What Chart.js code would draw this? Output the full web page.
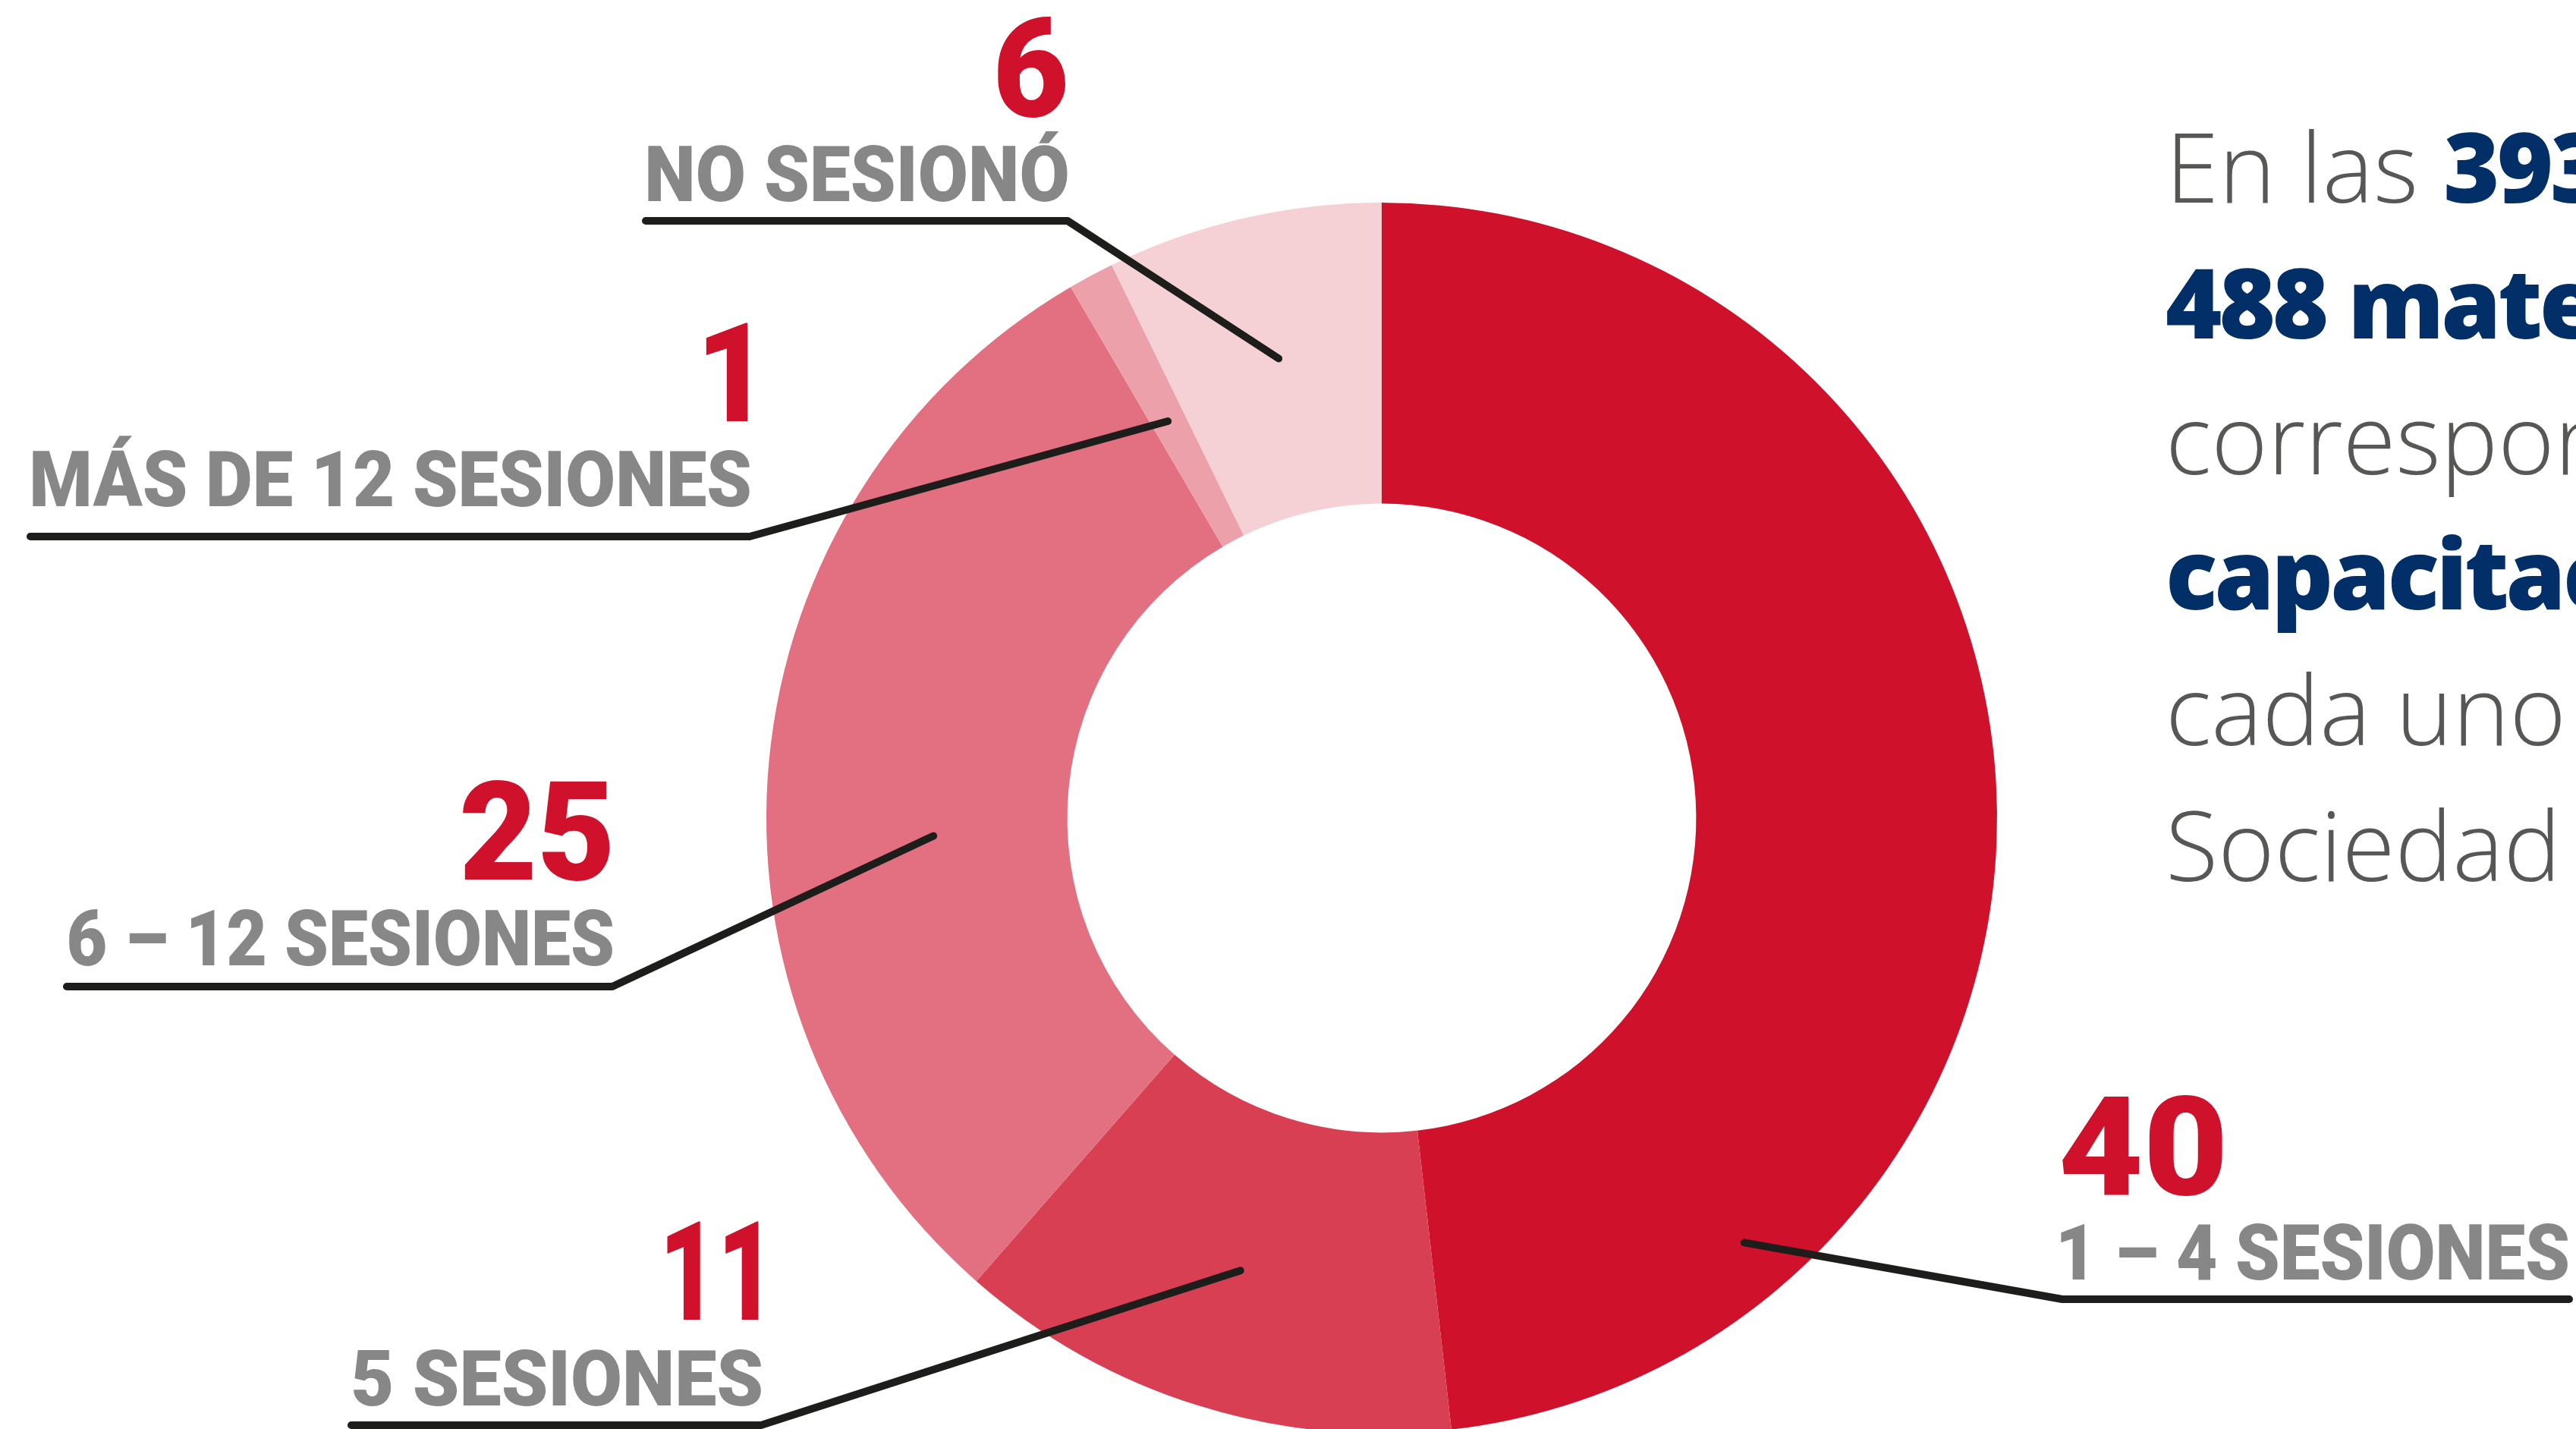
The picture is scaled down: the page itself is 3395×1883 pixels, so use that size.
<!DOCTYPE html>
<html>
<head>
<meta charset="utf-8">
<title>Sesiones</title>
<script src="https://cdn.jsdelivr.net/npm/chart.js"></script>
<style>
  html, body { margin: 0; padding: 0; background: #fff; overflow: hidden; }
  #wrap { position: absolute; left: 0; top: 0; width: 3395px; height: 1900px; }
</style>
</head>
<body>
<div id="wrap"><canvas id="sesiones"></canvas></div>
<script>
const categories = ['1 – 4 SESIONES', '5 SESIONES', '6 – 12 SESIONES', 'MÁS DE 12 SESIONES', 'NO SESIONÓ'];
const sessionCounts = [40, 11, 25, 1, 6];
const sliceColors = ['#D0112B', '#D93F53', '#E27080', '#ECA0AA', '#F5D1D6'];
const introLines = [
  [['En las ', false], ['393 sesiones', true]],
  [['488 materias', true]],
  [['correspondientes', false]],
  [['capacitación', true]],
  [['cada uno de', false]],
  [['Sociedad Civil', false]]
];

// label placement, one per slice. t = where along the slice the leader starts, f = how deep in the ring
const callouts = [
  { side: 'left',  x0: 2716, x1: 3384, capBottom: 1686, num: [2718, 2929, 1574], lineY: 1712, t: 0.804, f: 0.81 },
  { side: 'right', x0: 466,  x1: 1003, capBottom: 1852, num: [879, 1000, 1739],  lineY: 1878, t: 0.50,  f: 0.53 },
  { side: 'right', x0: 91,   x1: 807,  capBottom: 1272, num: [610, 804, 1159],   lineY: 1300, t: 0.429, f: 0.446 },
  { side: 'right', x0: 43,   x1: 988,  capBottom: 667,  num: [930, 986, 555],    lineY: 707,  t: 0.47,  f: 0.453 },
  { side: 'right', x0: 854,  x1: 1407, capBottom: 265,  num: [1315, 1405, 153],  lineY: 291,  t: 0.514, f: 0.52 }
];

function drawFit(ctx, text, x0, x1, baseline, inkHeight, color) {
  ctx.font = '900 ' + (inkHeight / 0.711) + 'px Roboto';
  ctx.textAlign = 'left';
  ctx.textBaseline = 'alphabetic';
  const m = ctx.measureText(text);
  const w = m.actualBoundingBoxLeft + m.actualBoundingBoxRight;
  ctx.save();
  ctx.translate(x0, baseline);
  ctx.scale((x1 - x0) / w, 1);
  ctx.fillStyle = color;
  ctx.fillText(text, m.actualBoundingBoxLeft, 0);
  ctx.restore();
}

const calloutPlugin = {
  id: 'callouts',
  afterDatasetsDraw(chart) {
    const ctx = chart.ctx;
    const arcs = chart.getDatasetMeta(0).data;
    ctx.save();
    callouts.forEach((c, i) => {
      const arc = arcs[i];
      const a = arc.startAngle + c.t * (arc.endAngle - arc.startAngle);
      const r = arc.innerRadius + c.f * (arc.outerRadius - arc.innerRadius);
      const ax = arc.x + r * Math.cos(a);
      const ay = arc.y + r * Math.sin(a);

      ctx.beginPath();
      if (c.side === 'right') {
        ctx.moveTo(c.x0 - 3, c.lineY);
        ctx.lineTo(c.x1, c.lineY);
      } else {
        ctx.moveTo(c.x1 + 2, c.lineY);
        ctx.lineTo(c.x0 + 2, c.lineY);
      }
      ctx.lineTo(ax, ay);
      ctx.lineWidth = 10;
      ctx.lineCap = 'round';
      ctx.lineJoin = 'round';
      ctx.strokeStyle = '#1D1D1B';
      ctx.stroke();

      drawFit(ctx, categories[i], c.x0, c.x1, c.capBottom, 73, '#878787');
      drawFit(ctx, String(sessionCounts[i]), c.num[0], c.num[1], c.num[2], 129, '#D0112B');
    });

    // intro paragraph on the right, cut by the page edge
    let y = 267;
    introLines.forEach(line => {
      let x = 2854;
      line.forEach(([txt, bold]) => {
        ctx.font = bold ? '800 127px "Open Sans"' : '300 127px "Open Sans"';
        ctx.letterSpacing = bold ? '-4px' : '0px';
        ctx.fillStyle = bold ? '#022F68' : '#575756';
        ctx.textAlign = 'left';
        ctx.fillText(txt, x, y);
        x += ctx.measureText(txt).width;
      });
      y += 178.8;
    });
    ctx.letterSpacing = '0px';
    ctx.restore();
  }
};

new Chart(document.getElementById('sesiones').getContext('2d'), {
  type: 'doughnut',
  data: {
    labels: categories,
    datasets: [{
      data: sessionCounts,
      backgroundColor: sliceColors,
      borderWidth: 0,
      hoverOffset: 0,
      offset: 0
    }]
  },
  options: {
    responsive: true,
    maintainAspectRatio: false,
    animation: false,
    cutout: '51.1%',
    layout: { padding: { left: 1010, right: 763, top: 267, bottom: 11 } },
    plugins: { legend: { display: false }, tooltip: { enabled: false } },
    events: []
  },
  plugins: [calloutPlugin]
});
</script>
</body>
</html>
